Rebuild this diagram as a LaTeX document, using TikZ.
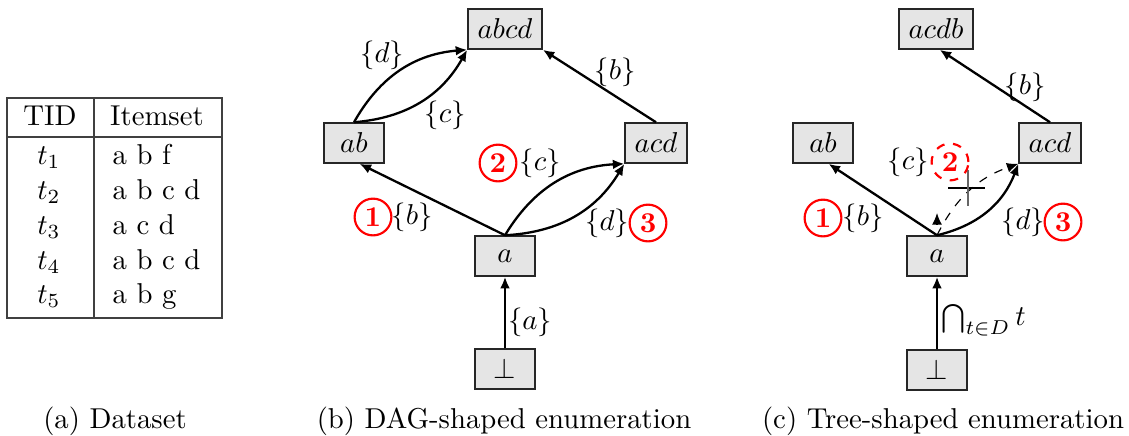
\documentclass[tikz,border=0pt]{standalone}
\usetikzlibrary{arrows.meta}
\begin{document}
\begin{tikzpicture}[x=0.348pt,y=-0.348pt,
  box/.style={draw=black!85, line width=0.55pt, fill=black!10, minimum width=20.9pt, minimum height=13.9pt, inner sep=3.33pt},
  conn/.style={thick, -{Latex[length=4pt,width=3.4pt]}},
  num/.style={circle, draw=red, line width=0.75pt, text=red, font=\bfseries, minimum size=12.8pt, inner sep=0pt},
  lab/.style={inner sep=0pt},
  tline/.style={draw=black!75, line width=0.5pt}]
\useasboundingbox (0,0) rectangle (1129,435);

% ---------- (a) table ----------
\draw[tline] (7,98) rectangle (222,318);
\draw[tline] (7,137) -- (222,137);
\draw[tline] (94,98) -- (94,318);
\node[lab, anchor=base] (hTID) at (50,125) {TID};
\node[lab, anchor=base] (hIS) at (157,125) {Itemset};
\node[lab, anchor=base] (r1) at (49,164) {$t_1$};
\node[lab, anchor=base] (r2) at (49,199) {$t_2$};
\node[lab, anchor=base] (r3) at (49,234) {$t_3$};
\node[lab, anchor=base] (r4) at (49,269) {$t_4$};
\node[lab, anchor=base] (r5) at (49,303) {$t_5$};
\node[lab, anchor=base west] (s1) at (112,164) {a b f};
\node[lab, anchor=base west] (s2) at (112,199) {a b c d};
\node[lab, anchor=base west] (s3) at (112,234) {a c d};
\node[lab, anchor=base west] (s4) at (112,269) {a b c d};
\node[lab, anchor=base west] (s5) at (112,303) {a b g};
\node[lab, anchor=base] (capa) at (115,428) {(a) Dataset};

% ---------- (b) DAG ----------
\node[box] (dabcd) at (505,29) {$abcd$};
\node[box] (dab) at (354,143) {$ab$};
\node[box] (dacd) at (656,143) {$acd$};
\node[box] (da) at (505,256) {$a$};
\node[box] (dbot) at (505,369) {$\bot$};

\draw[conn] (dbot) -- (da);
\draw[conn] (da.north) -- (dab.-75);
\draw[conn] (da.north) to[bend left=28] (dacd.south west);
\draw[conn] (da.north) to[bend right=28] (dacd.south west);
\draw[conn] (dab.north) to[bend left=28] (dabcd.south west);
\draw[conn] (dab.north) to[bend right=28] (dabcd.south west);
\draw[conn] (dacd.north) -- (dabcd.south east);

\node[lab] (lda) at (530,322) {$\{a\}$};
\node[lab] (ldb) at (412,217) {$\{b\}$};
\node[num] (dn1) at (373,217) {1};
\node[lab] (ldc) at (540,163) {$\{c\}$};
\node[num] (dn2) at (498,163) {2};
\node[lab] (ldd) at (607,223) {$\{d\}$};
\node[num] (dn3) at (648,223) {3};
\node[lab] (ldd2) at (382,55) {$\{d\}$};
\node[lab] (ldc2) at (445,115) {$\{c\}$};
\node[lab] (ldb2) at (615,72) {$\{b\}$};
\node[lab, anchor=base] (capb) at (504,428) {(b) DAG-shaped enumeration};

% ---------- (c) Tree ----------
\node[box] (tacdb) at (936,29) {$acdb$};
\node[box] (tab) at (823,143) {$ab$};
\node[box] (tacd) at (1050,143) {$acd$};
\node[box] (ta) at (937,256) {$a$};
\node[box] (tbot) at (937,370) {$\bot$};
\coordinate (tup) at (937,213);

\draw[conn] (tbot) -- (ta);
\draw[conn] (ta.north) -- (tab.-75);
\draw[conn] (ta.north) to[bend right=28] (tacd.south west);
\draw[conn] (tacd.north) -- (tacdb.-80);
\draw[thin, dashed, -{Latex[length=4pt,width=3.4pt]}] (ta.north) to[bend left=22] (tacd.south west);
\draw[thin, -{Latex[length=4pt,width=3.4pt]}, shorten <=4pt] (ta.north) -- (tup);
\draw[line width=0.4pt] (948,188) -- (985,188);
\draw[line width=0.4pt, black!60] (968,170) -- (968,206);

\node[lab] (ltb) at (863,218) {$\{b\}$};
\node[num] (tn1) at (823,218) {1};
\node[lab] (ltc) at (908,162) {$\{c\}$};
\node[num, dashed] (tn2) at (950,162) {2};
\node[lab] (ltd) at (1023,222) {$\{d\}$};
\node[num] (tn3) at (1063,222) {3};
\node[lab] (ltb2) at (1025,87) {$\{b\}$};
\node[lab, anchor=west] (ltcap) at (941,320) {$\bigcap_{t\in D} t$};
\node[lab, anchor=base] (capc) at (943,428) {(c) Tree-shaped enumeration};
\end{tikzpicture}
\end{document}
